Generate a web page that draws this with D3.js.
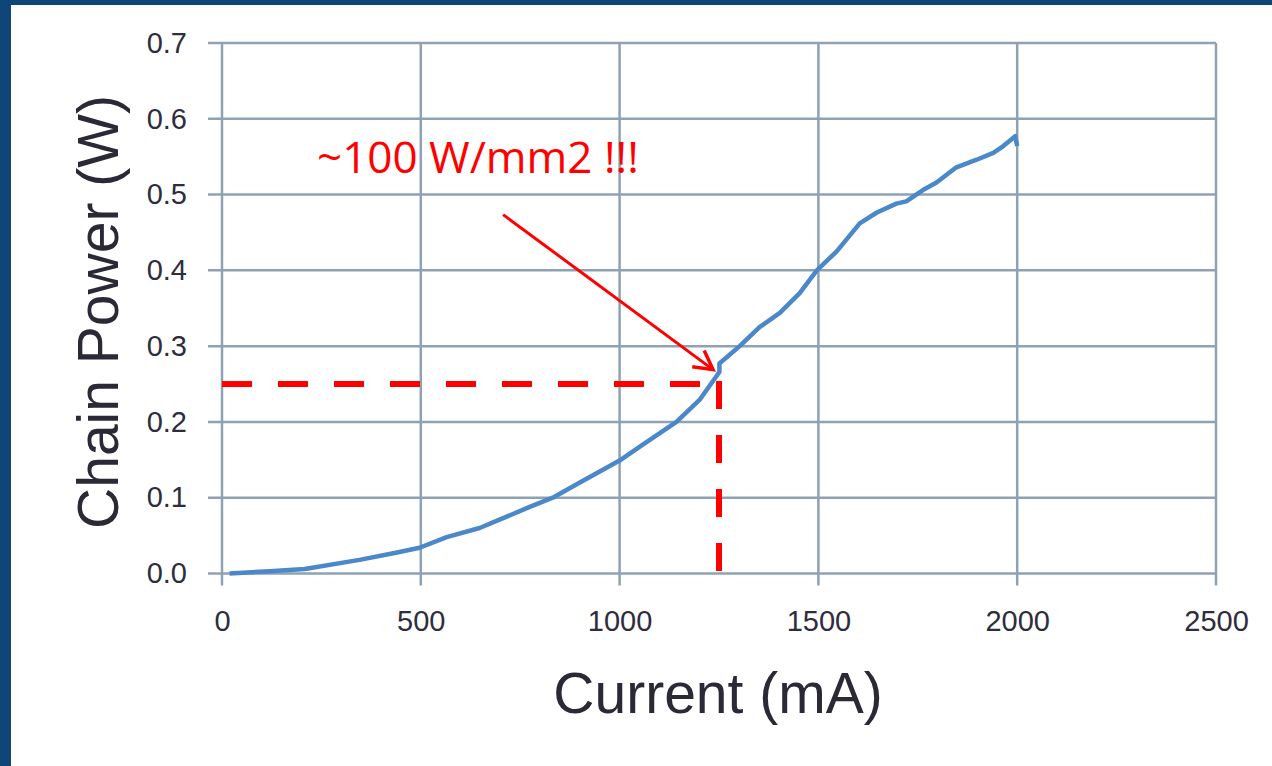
<!DOCTYPE html>
<html>
<head>
<meta charset="utf-8">
<script src="https://cdn.jsdelivr.net/npm/d3@7"></script>
<style>
  html, body { margin: 0; padding: 0; }
  body { width: 1272px; height: 766px; overflow: hidden; background: #0d4677; }
  svg { display: block; }
</style>
</head>
<body>
<svg id="chart" width="1272" height="766"></svg>
<script>
// Measured chain power versus drive current
const currentMA = [19, 120, 208, 346, 434, 497, 565, 648, 698, 774, 832, 900, 1000, 1050, 1143, 1201, 1243, 1251, 1251, 1302, 1352, 1403, 1453, 1496, 1546, 1604, 1646, 1696, 1721, 1763, 1797, 1847, 1898, 1940, 1965, 1995, 2000];
const powerW    = [0.000, 0.003, 0.006, 0.018, 0.027, 0.034, 0.048, 0.060, 0.071, 0.088, 0.100, 0.120, 0.149, 0.167, 0.200, 0.229, 0.260, 0.266, 0.277, 0.300, 0.325, 0.344, 0.370, 0.400, 0.425, 0.462, 0.476, 0.488, 0.491, 0.506, 0.516, 0.536, 0.546, 0.555, 0.564, 0.577, 0.564];

const xTicks = [0, 500, 1000, 1500, 2000, 2500];
const yTicks = [0.0, 0.1, 0.2, 0.3, 0.4, 0.5, 0.6, 0.7];

// Operating point marked with dashed guides
const markCurrent = 1250;
const markPower = 0.25;

// Callout
const calloutText = "~100 W/mm2 !!!";
const calloutAt = [239, 0.529];
const arrowFrom = [707, 0.4735];
const arrowTo = [1235, 0.269];

const svg = d3.select("#chart");

// white panel over the blue background
svg.append("rect").attr("x", 11).attr("y", 5).attr("width", 1261).attr("height", 761).attr("fill", "#ffffff");

const x = d3.scaleLinear().domain([0, 2500]).range([222, 1216]);
const y = d3.scaleLinear().domain([0, 0.7]).range([573.5, 43]);

const gridColor = "#8ea2b4";
const grid = svg.append("g");

// horizontal gridlines with short ticks to the left
grid.selectAll("line.h").data(yTicks).join("line")
  .attr("x1", x(0) - 14).attr("x2", x(2500))
  .attr("y1", d => y(d)).attr("y2", d => y(d))
  .attr("stroke", gridColor).attr("stroke-width", 2.5);

// vertical gridlines with short ticks below
grid.selectAll("line.v").data(xTicks).join("line")
  .attr("x1", d => x(d)).attr("x2", d => x(d))
  .attr("y1", y(0.7)).attr("y2", y(0) + 12)
  .attr("stroke", gridColor).attr("stroke-width", 2.5);

// tick labels via d3 axes
const tickFont = "'Liberation Sans', Arial, sans-serif";
const yAxis = svg.append("g").attr("transform", `translate(${x(0)},0)`)
  .call(d3.axisLeft(y).tickValues(yTicks).tickFormat(d3.format(".1f")).tickSize(0).tickPadding(35));
const xAxis = svg.append("g").attr("transform", `translate(0,${y(0)})`)
  .call(d3.axisBottom(x).tickValues(xTicks).tickFormat(d3.format("d")).tickSize(0).tickPadding(37));
[yAxis, xAxis].forEach(a => {
  a.select(".domain").remove();
  a.selectAll("text").attr("font-family", tickFont).attr("font-size", 29).attr("fill", "#2e2d3d");
});

// axis titles
svg.append("text")
  .attr("x", 718).attr("y", 713)
  .attr("text-anchor", "middle")
  .attr("font-family", tickFont).attr("font-size", 57).attr("fill", "#2a2935")
  .text("Current (mA)");
svg.append("text")
  .attr("transform", `translate(118,312) rotate(-90)`)
  .attr("text-anchor", "middle")
  .attr("font-family", tickFont).attr("font-size", 57).attr("fill", "#2a2935")
  .text("Chain Power (W)");

// red dashed guides to the marked point
svg.append("line")
  .attr("x1", x(0)).attr("x2", x(markCurrent))
  .attr("y1", y(markPower)).attr("y2", y(markPower))
  .attr("stroke", "#ff0000").attr("stroke-width", 6).attr("stroke-dasharray", "30,26");
svg.append("line")
  .attr("x1", x(markCurrent)).attr("x2", x(markCurrent))
  .attr("y1", y(markPower) - 3).attr("y2", y(0))
  .attr("stroke", "#ff0000").attr("stroke-width", 6).attr("stroke-dasharray", "28,26");

// power curve
const pts = currentMA.map((c, i) => [c, powerW[i]]);
svg.append("path")
  .datum(pts)
  .attr("d", d3.line().x(d => x(d[0])).y(d => y(d[1])))
  .attr("fill", "none").attr("stroke", "#4a88c9").attr("stroke-width", 4.5)
  .attr("stroke-linejoin", "round");

// callout arrow with open head
const ax0 = x(arrowFrom[0]), ay0 = y(arrowFrom[1]);
const ax1 = x(arrowTo[0]), ay1 = y(arrowTo[1]);
svg.append("line")
  .attr("x1", ax0).attr("y1", ay0).attr("x2", ax1).attr("y2", ay1)
  .attr("stroke", "#ff0000").attr("stroke-width", 3);
const ang = Math.atan2(ay1 - ay0, ax1 - ax0);
const headLen = 21, spread = 0.5;
const head = [ang + Math.PI - spread, ang + Math.PI + spread].map(a => [ax1 + headLen * Math.cos(a), ay1 + headLen * Math.sin(a)]);
svg.append("path")
  .attr("d", `M${head[0][0]},${head[0][1]} L${ax1},${ay1} L${head[1][0]},${head[1][1]}`)
  .attr("fill", "none").attr("stroke", "#ff0000").attr("stroke-width", 3.5)
  .attr("stroke-linejoin", "miter");

svg.append("text")
  .attr("x", x(calloutAt[0])).attr("y", y(calloutAt[1]))
  .attr("font-family", "'Open Sans', 'Liberation Sans', sans-serif").attr("font-size", 44).attr("fill", "#ff0000")
  .text(calloutText);
</script>
</body>
</html>
